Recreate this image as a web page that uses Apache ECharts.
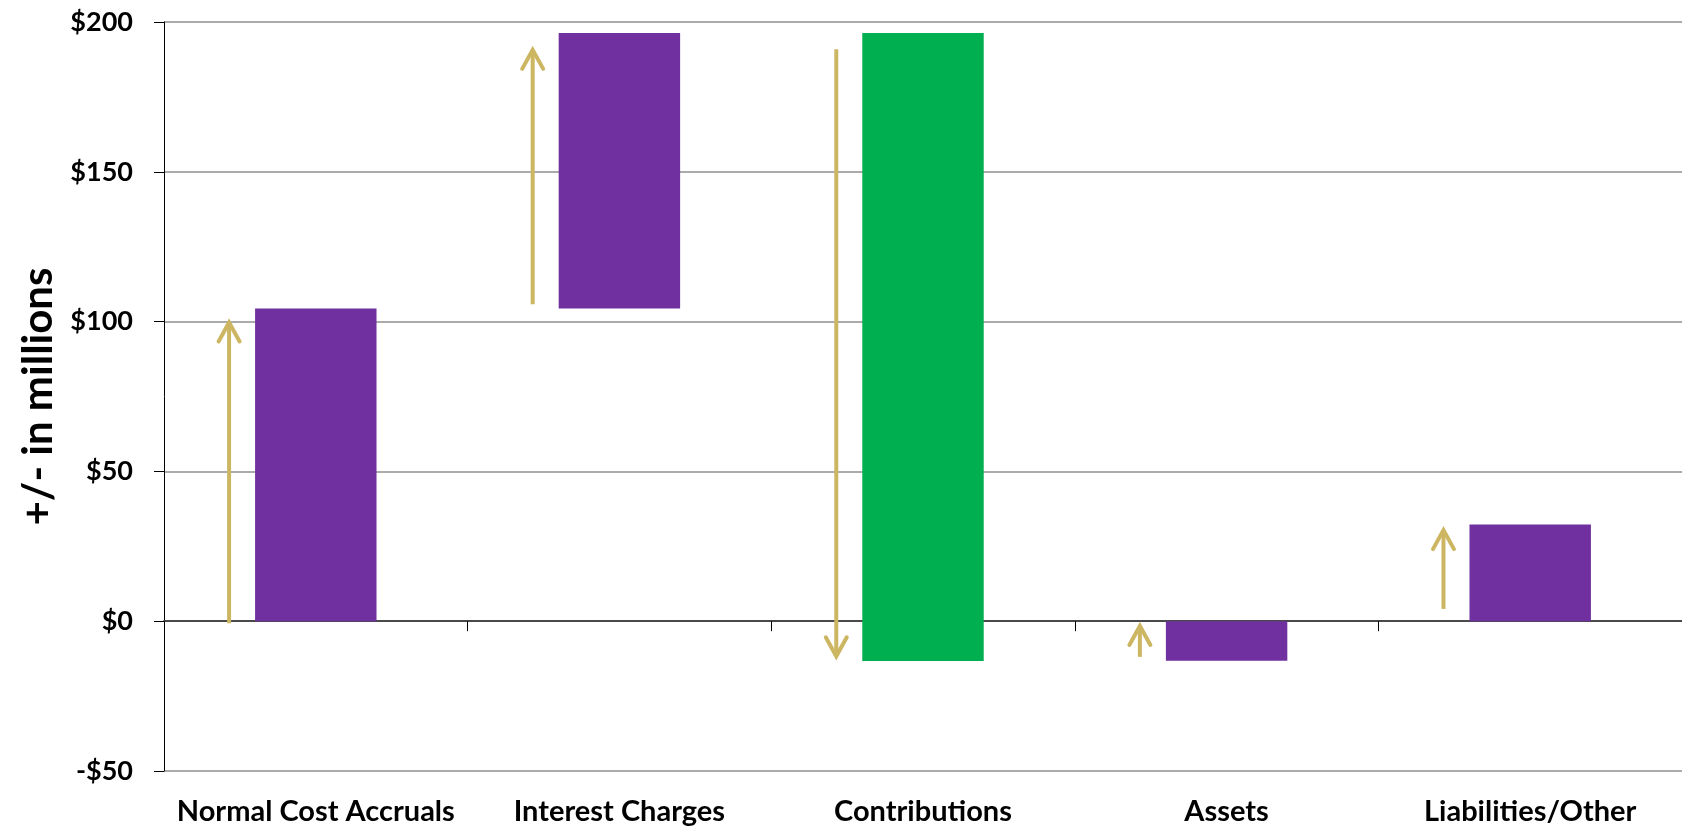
<!DOCTYPE html>
<html>
<head>
<meta charset="utf-8">
<script src="https://cdn.jsdelivr.net/npm/echarts@6/dist/echarts.min.js"></script>
<style>
html,body{margin:0;padding:0;background:#fff;}
#chart{width:1682px;height:827px;}
</style>
</head>
<body>
<div id="chart"></div>
<script>
// ---- data ----
const categories = ['Normal Cost Accruals', 'Interest Charges', 'Contributions', 'Assets', 'Liabilities/Other'];
const barStart = [0, 104.4, -13.3, -13.2, 0];
const barEnd   = [104.4, 196.3, 196.3, 0, 32.3];
const arrowFrom = [-0.7, 105.8, 190.9, -11.9, 4.1];
const arrowTo   = [99.7, 190.7, -11.7, -1.6, 30.4];
const yTicks = [-50, 0, 50, 100, 150, 200];

// ---- styles ----
const PURPLE = '#7030A0';
const GREEN = '#00B050';
const GOLD = '#CDB662';
const barColorByCategory = { 'Contributions': GREEN };
const FONT = 'Lato';

const chart = echarts.init(document.getElementById('chart'), null, { renderer: 'canvas' });

const barData = categories.map((c, i) => [i, barStart[i], barEnd[i]]);
const arrowData = categories.map((c, i) => [i, arrowFrom[i], arrowTo[i]]);

const option = {
  animation: false,
  backgroundColor: '#fff',
  grid: { left: 164, right: 0, top: 22, bottom: 56, containLabel: false },
  xAxis: {
    type: 'category',
    data: categories,
    boundaryGap: true,
    axisLine: { show: true, lineStyle: { color: '#4a4a4a', width: 2 } },
    axisTick: { show: true, length: 10, lineStyle: { color: '#000', width: 1 } },
    axisLabel: { color: '#000', fontFamily: FONT, fontWeight: 'bold', fontSize: 29, margin: 26, interval: 0 },
    splitLine: { show: false }
  },
  yAxis: {
    type: 'value',
    min: yTicks[0],
    max: yTicks[yTicks.length - 1],
    interval: 50,
    name: '+/- in millions',
    nameLocation: 'middle',
    nameGap: 104,
    nameTextStyle: { color: '#000', fontFamily: FONT, fontWeight: 'bold', fontSize: 42 },
    axisLine: { show: true, onZero: false, lineStyle: { color: '#000', width: 1 } },
    axisTick: { show: true, length: 10, inside: false, lineStyle: { color: '#000', width: 1 } },
    axisLabel: {
      color: '#000', fontFamily: FONT, fontWeight: 'bold', fontSize: 27, margin: 31,
      formatter: v => (v < 0 ? '-$' + (-v) : '$' + v)
    },
    splitLine: { show: true, lineStyle: { color: '#8f8f8f', width: 1.5 } }
  },
  series: [
    {
      type: 'custom',
      name: 'bars',
      data: barData,
      encode: { x: 0, y: [1, 2] },
      renderItem: function (params, api) {
        const idx = api.value(0);
        const p0 = api.coord([idx, api.value(1)]);
        const p1 = api.coord([idx, api.value(2)]);
        const band = api.size([1, 0])[0];
        const w = band * 0.4;
        const color = barColorByCategory[categories[idx]] || PURPLE;
        return {
          type: 'rect',
          shape: { x: p0[0] - w / 2, y: Math.min(p0[1], p1[1]), width: w, height: Math.abs(p1[1] - p0[1]) },
          style: { fill: color }
        };
      },
      z: 2
    },
    {
      type: 'custom',
      name: 'arrows',
      data: arrowData,
      encode: { x: 0, y: [1, 2] },
      renderItem: function (params, api) {
        const idx = api.value(0);
        const p0 = api.coord([idx, api.value(1)]);
        const p1 = api.coord([idx, api.value(2)]);
        const band = api.size([1, 0])[0];
        const x = p0[0] - band * 0.2 - 26;
        const dir = p1[1] < p0[1] ? -1 : 1;
        const tip = p1[1];
        const hw = 10.5, hh = 19;
        return {
          type: 'group',
          children: [
            {
              type: 'line',
              shape: { x1: x, y1: p0[1], x2: x, y2: tip - dir * 1.5 },
              style: { stroke: GOLD, lineWidth: 4, lineCap: 'butt' }
            },
            {
              type: 'polyline',
              shape: { points: [[x - hw, tip - dir * hh], [x, tip], [x + hw, tip - dir * hh]] },
              style: { stroke: GOLD, lineWidth: 4, lineCap: 'round', lineJoin: 'miter', fill: null }
            }
          ]
        };
      },
      z: 3
    }
  ]
};
chart.setOption(option);
</script>
</body>
</html>
